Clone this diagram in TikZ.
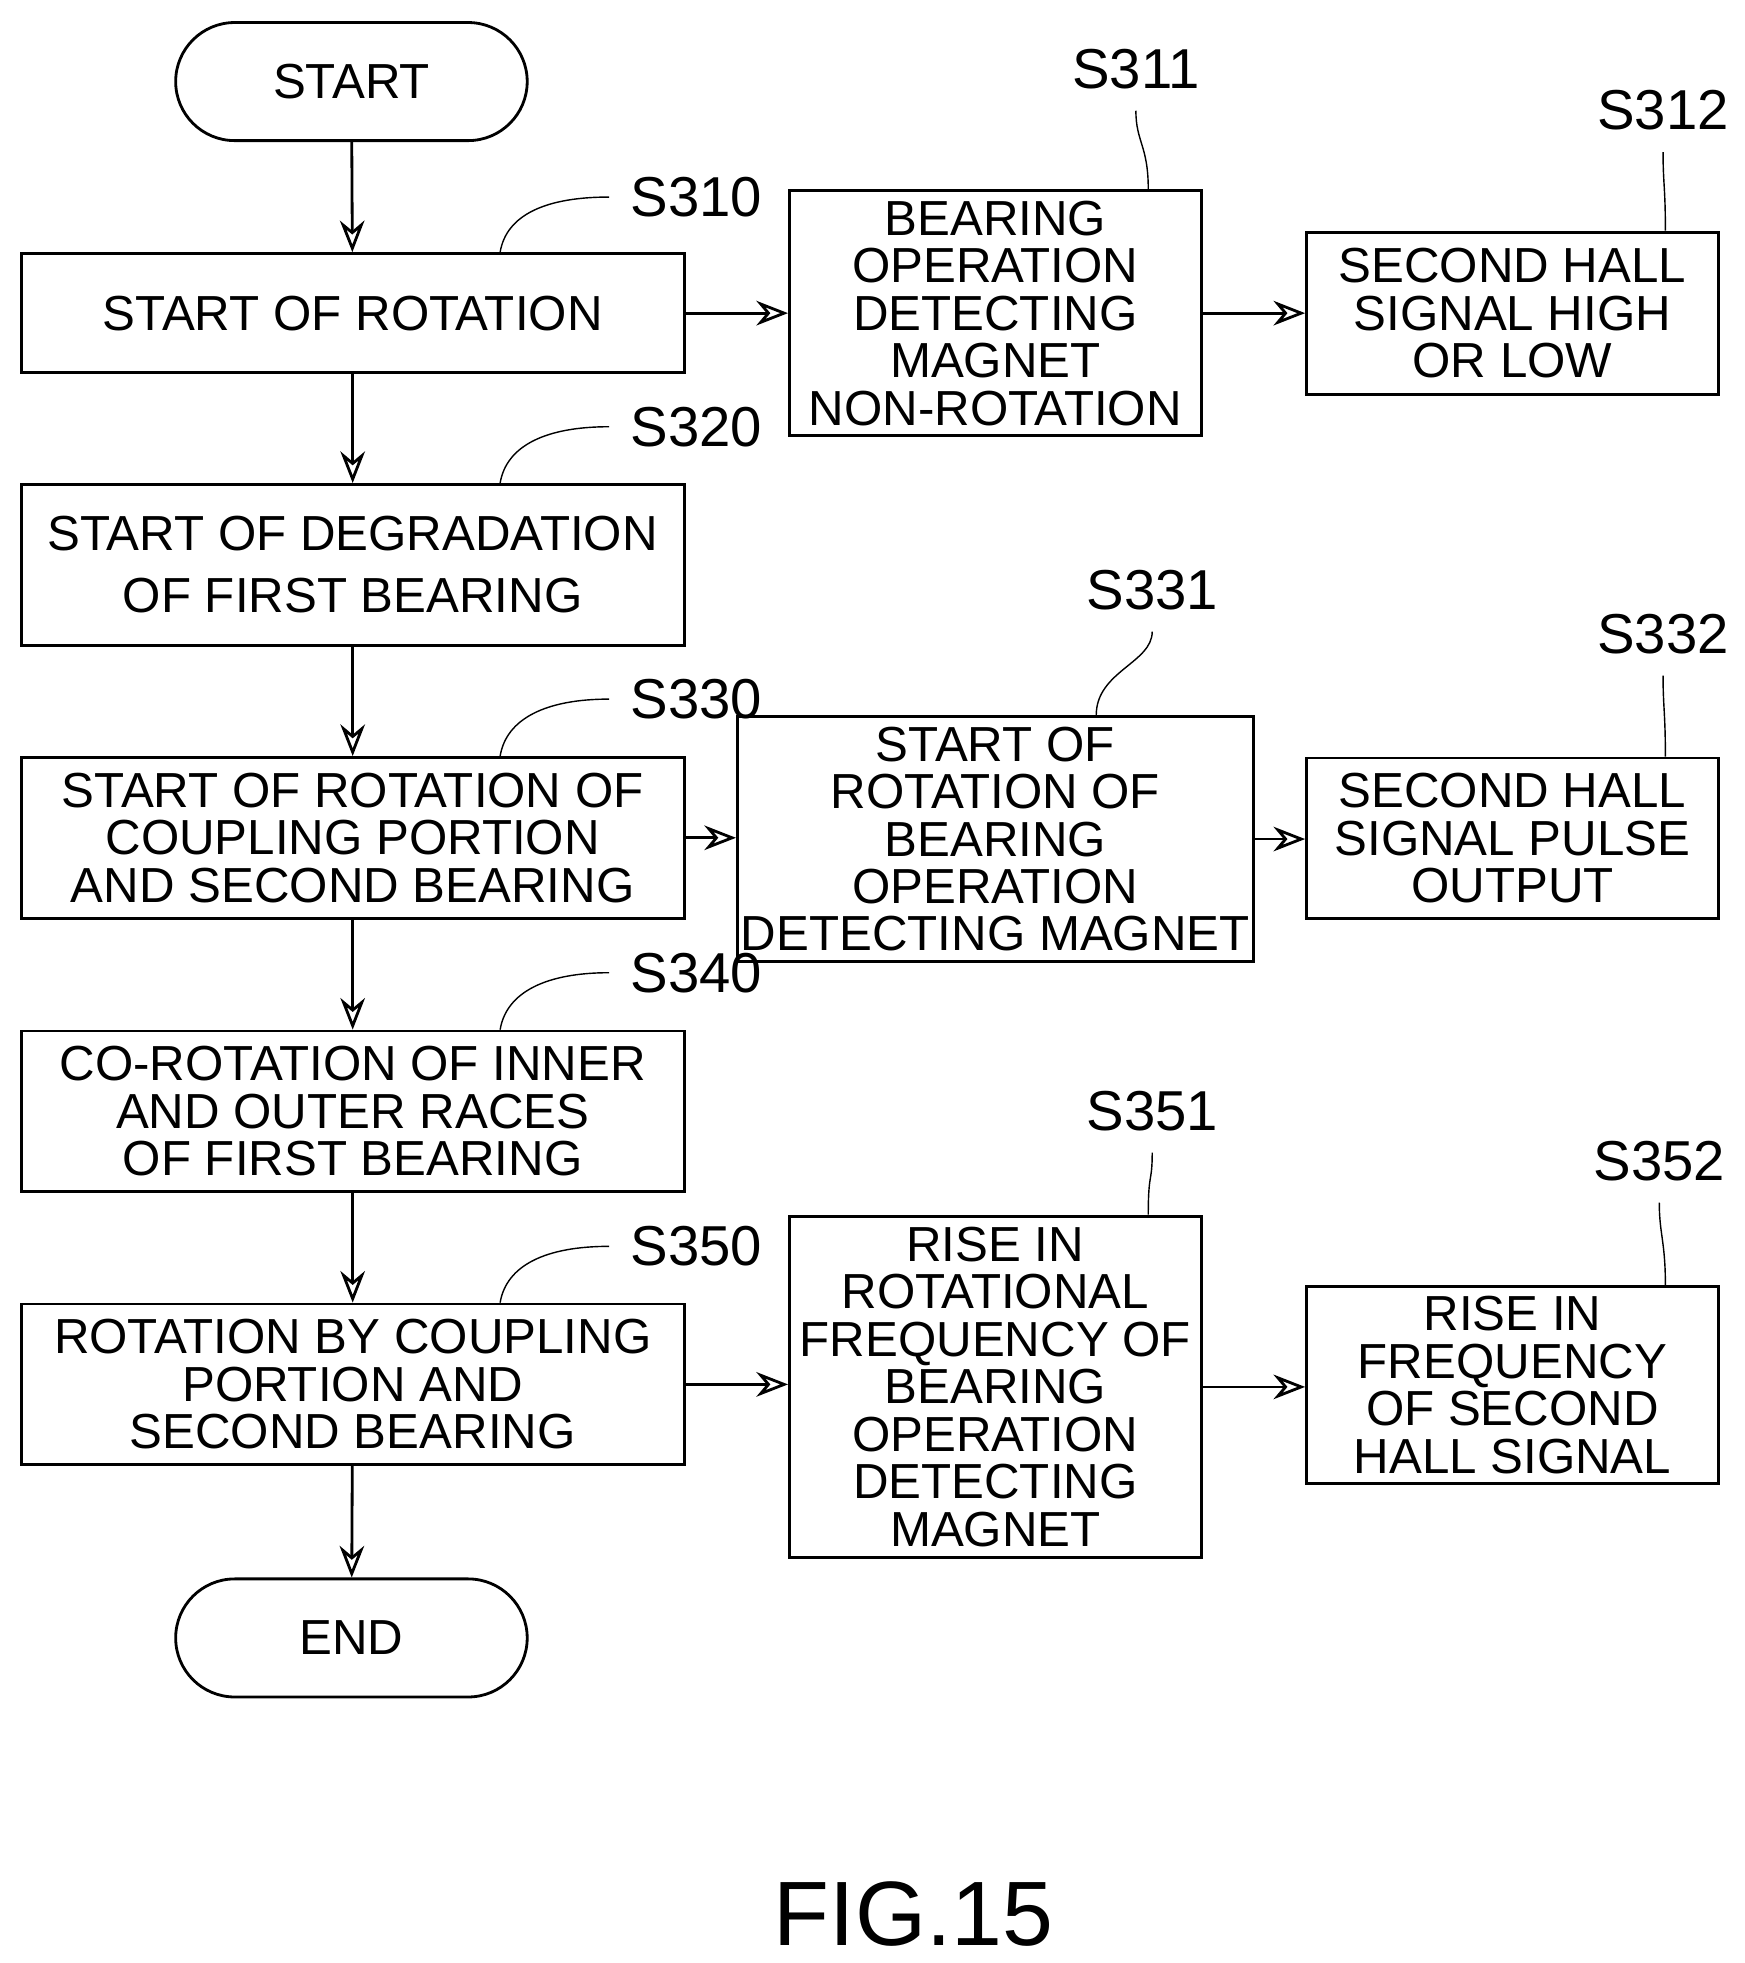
\documentclass[tikz,border=0pt]{standalone}
\usepackage{fontspec}
\setmainfont{Liberation Sans}
\usetikzlibrary{arrows.meta,positioning}
\begin{document}
\begin{tikzpicture}[
    x=0.012547cm, y=-0.012547cm,
    font=\fontsize{14}{13.5}\selectfont,
    box/.style={draw, thick, rectangle, align=center, inner sep=1pt},
    lbox/.style={box, minimum width=6.625cm, minimum height=1.606cm},
    mbox/.style={box, minimum width=4.115cm},
    term/.style={draw, thick, rounded corners=0.59cm, minimum width=3.513cm, minimum height=1.18cm},
    flow/.style={thick, -{Stealth[open, length=9pt, width=7pt]}},
    lead/.style={thin},
    steplabel/.style={font=\fontsize{16}{17}\selectfont, inner sep=0}]
\useasboundingbox (0,0) rectangle (1390,1564);
% left column
\node[term] (start) at (280,65) {START};
\node[lbox, minimum height=1.19cm] (s310) at (281,249.5) {START OF ROTATION};
\node[lbox] (s320) at (281,450) {START OF DEGRADATION\\[4pt]OF FIRST BEARING};
\node[lbox] (s330) at (281,667.5) {START OF ROTATION OF\\COUPLING PORTION\\AND SECOND BEARING};
\node[lbox] (s340) at (281,885.5) {CO-ROTATION OF INNER\\AND OUTER RACES\\OF FIRST BEARING};
\node[lbox] (s350) at (281,1103) {ROTATION BY COUPLING\\PORTION AND\\SECOND BEARING};
\node[term] (end) at (280,1305) {END};
% middle column
\node[mbox, minimum height=2.447cm] (s311) at (793,249.5) {BEARING\\OPERATION\\DETECTING\\MAGNET\\NON-ROTATION};
\node[mbox, minimum height=2.447cm] (s331) at (793,668.5) {START OF\\ROTATION OF\\BEARING\\OPERATION\\DETECTING MAGNET};
\node[mbox, minimum height=3.413cm] (s351) at (793,1105) {RISE IN\\ROTATIONAL\\FREQUENCY OF\\BEARING\\OPERATION\\DETECTING\\MAGNET};
% right column
\node[mbox, minimum height=1.619cm] (s312) at (1205,249.5) {SECOND HALL\\SIGNAL HIGH\\OR LOW};
\node[mbox, minimum height=1.606cm] (s332) at (1205,668) {SECOND HALL\\SIGNAL PULSE\\OUTPUT};
\node[mbox, minimum height=1.97cm] (s352) at (1205,1103.5) {RISE IN\\FREQUENCY\\OF SECOND\\HALL SIGNAL};
% connectors
\draw[flow] (start) -- (s310);
\draw[flow] (s310) -- (s320);
\draw[flow] (s320) -- (s330);
\draw[flow] (s330) -- (s340);
\draw[flow] (s340) -- (s350);
\draw[flow] (s350) -- (end);
\draw[flow] (s310) -- (s310 -| s311.west);
\draw[flow] (s311) -- (s311 -| s312.west);
\draw[flow] (s330) -- (s330 -| s331.west);
\draw[flow] (s331) -- (s331 -| s332.west);
\draw[flow] (s350) -- (s350 -| s351.west);
\draw[flow] (s351) -- (s351 -| s352.west);
% step labels
\foreach \n/\x/\y in {310/555/157, 320/555/340, 330/555/557, 340/555/775, 350/555/993}{
  \node[steplabel] (l\n) at (\x,\y) {S\n};
  \draw[lead] ([xshift=4.8cm]s\n.north west) .. controls +(5,-30) and +(-50,0) .. ([xshift=-6pt]l\n.west);
}
\foreach \n/\x/\y in {311/905/55, 312/1325/88, 331/918/470, 332/1325/505, 351/918/885, 352/1322/925}{
  \node[steplabel] (l\n) at (\x,\y) {S\n};
  \draw[lead] ([xshift=3.6cm]s\n.north west) .. controls +(0,-35) and +(0,25) .. ([yshift=-6pt]l\n.south);
}
\node[font=\fontsize{26}{26}\selectfont] (fig) at (728,1525) {FIG.15};
\end{tikzpicture}
\end{document}
